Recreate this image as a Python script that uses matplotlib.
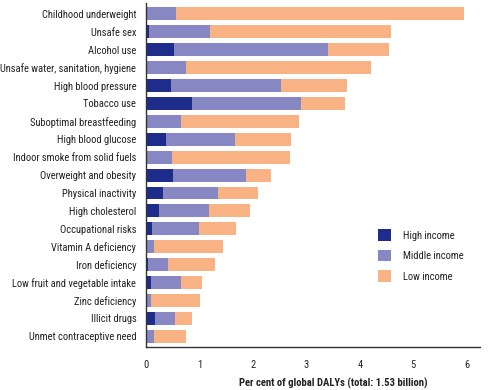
import numpy as np
import matplotlib
matplotlib.use('Agg')
from matplotlib import pyplot as plt

plt.rcParams['font.family'] = ['Roboto Condensed', 'DejaVu Sans']
plt.rcParams['font.stretch'] = 'condensed'

risks = ['Childhood underweight', 'Unsafe sex', 'Alcohol use',
         'Unsafe water, sanitation, hygiene', 'High blood pressure', 'Tobacco use',
         'Suboptimal breastfeeding', 'High blood glucose', 'Indoor smoke from solid fuels',
         'Overweight and obesity', 'Physical inactivity', 'High cholesterol',
         'Occupational risks', 'Vitamin A deficiency', 'Iron deficiency',
         'Low fruit and vegetable intake', 'Zinc deficiency', 'Illicit drugs',
         'Unmet contraceptive need']
high = [0.0, 0.06, 0.52, 0.0, 0.47, 0.86, 0.02, 0.37, 0.0, 0.51,
        0.32, 0.25, 0.11, 0.0, 0.03, 0.09, 0.0, 0.16, 0.0]
middle = [0.56, 1.14, 2.88, 0.75, 2.06, 2.04, 0.63, 1.29, 0.48, 1.36,
          1.03, 0.93, 0.88, 0.15, 0.39, 0.56, 0.09, 0.39, 0.15]
low = [5.39, 3.38, 1.14, 3.46, 1.23, 0.83, 2.22, 1.05, 2.22, 0.47,
       0.75, 0.77, 0.69, 1.29, 0.87, 0.39, 0.92, 0.31, 0.60]

c_high = '#1e2c8c'
c_mid = '#8787c3'
c_low = '#f9b283'

fig = plt.figure(figsize=(4.89, 3.9), dpi=100)
ax = fig.add_axes([0.2986, 0.110, 0.683, 0.882])

y = np.arange(len(risks))
h = np.array(high)
m = np.array(middle)
lo = np.array(low)
bh = 0.72
ax.barh(y, h, height=bh, color=c_high, label='High income')
ax.barh(y, m, left=h, height=bh, color=c_mid, label='Middle income')
ax.barh(y, lo, left=h + m, height=bh, color=c_low, label='Low income')

ax.set_yticks(y)
ax.set_yticklabels(risks, fontsize=7.6)
ax.set_ylim(len(risks) - 0.4, -0.6)
ax.set_xlim(0, 6.25)
ax.set_xticks(range(7))
ax.tick_params(axis='both', length=0, labelsize=7.6, labelcolor='#222222')
ax.tick_params(axis='x', pad=9)
ax.tick_params(axis='y', pad=7)
for s in ['top', 'right']:
    ax.spines[s].set_visible(False)
for s in ['left', 'bottom']:
    ax.spines[s].set_color('#333333')
    ax.spines[s].set_linewidth(1.0)

ax.set_xlabel('Per cent of global DALYs (total: 1.53 billion)', fontsize=7.7,
              fontweight='bold', x=0.56, labelpad=6, color='#222222')

ax.legend(loc='upper left', bbox_to_anchor=(0.665, 0.37), frameon=False,
          fontsize=7.6, handlelength=1.3, handleheight=1.3, labelspacing=0.85,
          handletextpad=1.1, labelcolor='#222222')

fig.savefig('out.png', dpi=100)
